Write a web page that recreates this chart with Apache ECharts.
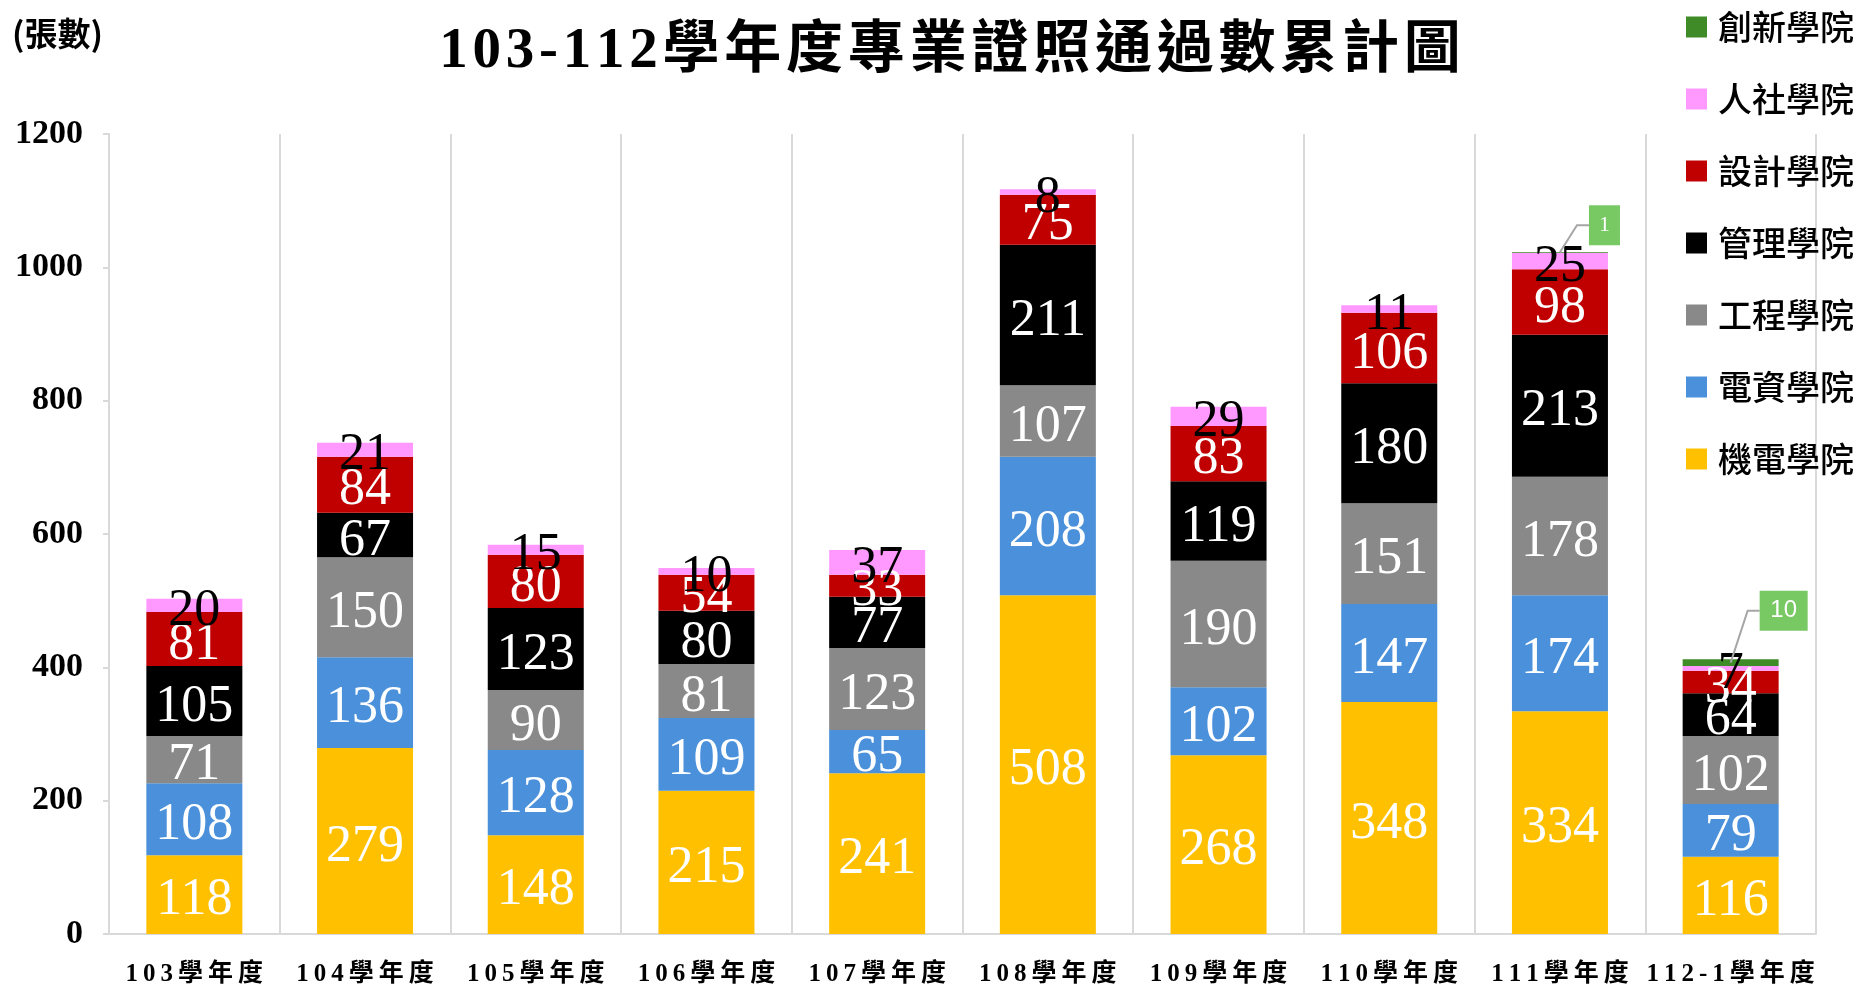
<!DOCTYPE html>
<html><head><meta charset="utf-8">
<script src="https://cdn.jsdelivr.net/npm/echarts@6/dist/echarts.min.js"></script>
<style>html,body{margin:0;padding:0;background:#fff}#c{width:1861px;height:987px}</style>
</head><body><div id="c"></div>
<script>
const categories = ['103學年度','104學年度','105學年度','106學年度','107學年度','108學年度','109學年度','110學年度','111學年度','112-1學年度'];
const seriesNames = ['機電學院','電資學院','工程學院','管理學院','設計學院','人社學院','創新學院'];
const jidian  = [118,279,148,215,241,508,268,348,334,116];
const dianzi  = [108,136,128,109,65,208,102,147,174,79];
const gongcheng = [71,150,90,81,123,107,190,151,178,102];
const guanli  = [105,67,123,80,77,211,119,180,213,64];
const sheji   = [81,84,80,54,33,75,83,106,98,34];
const renshe  = [20,21,15,10,37,8,29,11,25,7];
const chuangxin = [0,0,0,0,0,0,0,0,1,10];
const yTicks = [0,200,400,600,800,1000,1200];

const values = [jidian, dianzi, gongcheng, guanli, sheji, renshe, chuangxin];
const colors = ['#FFC000','#4A90DA','#898989','#000000','#C00000','#FF99FF','#3F8B27'];
const serif = "'Liberation Serif','Times New Roman','Noto Sans CJK TC',serif";
const cjk = "'Noto Sans CJK TC','Noto Sans',sans-serif";

const chart = echarts.init(document.getElementById('c'), null, {renderer:'canvas'});

const barSeries = seriesNames.map((name, si) => ({
  name, type:'bar', stack:'total', barWidth:96,
  itemStyle:{color:colors[si]},
  label:{
    show: si !== 6, position:'inside', offset:[0,6],
    color: si === 5 ? '#000' : '#fff',
    fontFamily: serif, fontSize:52, fontWeight:'normal'
  },
  data: values[si].slice()
}));

// callout data for 創新學院: [category index, segment middle, value]
const calloutData = [];
chuangxin.forEach((v, di) => {
  if (v > 0) {
    let below = 0;
    for (let s = 0; s < 6; s++) below += values[s][di];
    calloutData.push([di, below + v / 2, v]);
  }
});
const calloutRise = [27, 52];

const calloutSeries = {
  name:'創新標註', type:'custom', coordinateSystem:'cartesian2d', z:10,
  data: calloutData,
  renderItem: function(params, api){
    const p = api.coord([api.value(0), api.value(1)]);
    const v = api.value(2);
    const rise = calloutRise[params.dataIndex] || 30;
    const w = v < 10 ? 31 : 48, h = 40;
    const ex = p[0] + 17, ey = p[1] - rise, bx = ex + 12;
    return {type:'group', children:[
      {type:'polyline', shape:{points:[[p[0], p[1]],[ex,ey],[bx,ey]]}, style:{stroke:'#A6A6A6', lineWidth:2, fill:null}},
      {type:'rect', shape:{x:bx, y:ey-h/2, width:w, height:h}, style:{fill:'#78C864'}},
      {type:'text', style:{x:bx+w/2, y:ey, text:String(v), textAlign:'center', textVerticalAlign:'middle', align:'center', verticalAlign:'middle',
        fill:'#fff', font: v < 10 ? "22px 'Liberation Serif',serif" : "24px 'Liberation Sans',Arial,sans-serif"}}
    ]};
  }
};

const option = {
  backgroundColor:'#fff',
  animation:false,
  grid:{left:109, right:45, top:134, bottom:53, containLabel:false},
  legend:{
    orient:'vertical', left:1681, top:4,
    data: seriesNames.slice().reverse(),
    itemWidth:21, itemHeight:21, itemGap:36,
    icon:'rect',
    textStyle:{fontFamily:cjk, fontSize:34, fontWeight:500, color:'#000', lineHeight:36, padding:[0,0,0,6]}
  },
  xAxis:{
    type:'category', data:categories,
    axisLine:{show:true, lineStyle:{color:'#D9D9D9', width:2}},
    axisTick:{show:false},
    splitLine:{show:true, interval:0, lineStyle:{color:'#D9D9D9', width:2}},
    axisLabel:{
      interval:0, margin:28, color:'#000', fontFamily:serif, fontWeight:'bold', fontSize:25,
      formatter: v => v.split('').join('\u2009')
    }
  },
  yAxis:{
    type:'value', min:0, max:1200, interval:200,
    axisLine:{show:true, lineStyle:{color:'#D9D9D9', width:2}},
    axisTick:{show:true, length:6, lineStyle:{color:'#D9D9D9', width:2}},
    splitLine:{show:false},
    axisLabel:{
      margin:26, color:'#000', fontFamily:serif, fontWeight:'bold', fontSize:34,
      formatter: v => yTicks.indexOf(v) >= 0 ? String(v) : ''
    }
  },
  graphic:[
    {type:'text', x:950, y:52, style:{text:'103-112學年度專業證照通過數累計圖'.split('').join('\u200A'), textAlign:'center', textVerticalAlign:'middle',
      font:"bold 57px 'Liberation Serif','Noto Sans CJK TC',serif", fill:'#000'}},
    {type:'text', x:12, y:33, style:{text:'(張數)', textAlign:'left', textVerticalAlign:'middle',
      font:"bold 33px 'Noto Sans CJK TC',sans-serif", fill:'#000'}}
  ],
  series: barSeries.concat([calloutSeries])
};
chart.setOption(option);
</script>
</body></html>
